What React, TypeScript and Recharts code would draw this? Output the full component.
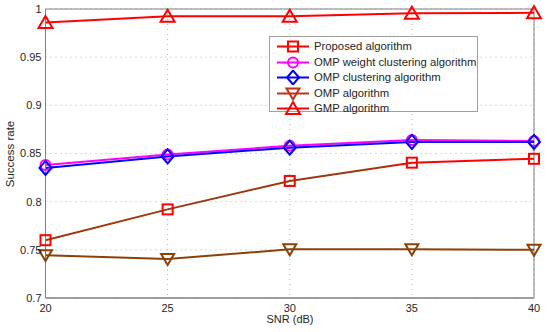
import React from 'react';
import { LineChart, Line, XAxis, YAxis, CartesianGrid, ReferenceArea } from 'recharts';

const snr = [20, 25, 30, 35, 40];
const proposed = [0.76, 0.792, 0.8215, 0.8405, 0.8445];
const ompWeight = [0.838, 0.849, 0.858, 0.864, 0.863];
const ompCluster = [0.835, 0.847, 0.856, 0.862, 0.862];
const omp = [0.7445, 0.7405, 0.7505, 0.7505, 0.75];
const gmp = [0.986, 0.9925, 0.9925, 0.9955, 0.996];
const yTicks = [0.7, 0.75, 0.8, 0.85, 0.9, 0.95, 1];

const seriesNames = [
  'Proposed algorithm',
  'OMP weight clustering algorithm',
  'OMP clustering algorithm',
  'OMP algorithm',
  'GMP algorithm',
];

const data = snr.map((s, i) => ({
  snr: s,
  proposed: proposed[i],
  ompWeight: ompWeight[i],
  ompCluster: ompCluster[i],
  omp: omp[i],
  gmp: gmp[i],
}));

const FONT = '"Liberation Sans", Arial, sans-serif';
const TXT = '#262626';

type Shape = 'square' | 'circle' | 'diamond' | 'tdown' | 'tup';

function Marker({ cx, cy, shape, color }: { cx: number; cy: number; shape: Shape; color: string }) {
  const sw = 2;
  if (shape === 'square') return <rect x={cx - 5} y={cy - 5} width={10} height={10} fill="none" stroke={color} strokeWidth={sw} />;
  if (shape === 'circle') return <circle cx={cx} cy={cy} r={5} fill="none" stroke={color} strokeWidth={sw} />;
  if (shape === 'diamond')
    return <polygon points={`${cx},${cy - 7} ${cx + 6},${cy} ${cx},${cy + 7} ${cx - 6},${cy}`} fill="none" stroke={color} strokeWidth={sw} />;
  if (shape === 'tdown')
    return <polygon points={`${cx - 6.5},${cy - 5} ${cx + 6.5},${cy - 5} ${cx},${cy + 6}`} fill="none" stroke={color} strokeWidth={sw} />;
  return <polygon points={`${cx - 7},${cy + 5.5} ${cx + 7},${cy + 5.5} ${cx},${cy - 6.5}`} fill="none" stroke={color} strokeWidth={sw} />;
}

const dotFn = (shape: Shape, color: string) => (props: any) => {
  const { cx, cy, index } = props;
  return <Marker key={`${shape}-${index}`} cx={cx} cy={cy} shape={shape} color={color} />;
};

const series = [
  { key: 'proposed', stroke: 'url(#propGrad)', legendColor: '#ff0000', markColor: '#ff0000', shape: 'square' as Shape },
  { key: 'ompWeight', stroke: '#ff00ff', legendColor: '#ff00ff', markColor: '#ff00ff', shape: 'circle' as Shape },
  { key: 'ompCluster', stroke: '#0000ff', legendColor: '#0000ff', markColor: '#0000ff', shape: 'diamond' as Shape },
  { key: 'omp', stroke: '#8a4208', legendColor: '#c0301a', markColor: '#8a4208', shape: 'tdown' as Shape },
  { key: 'gmp', stroke: '#ff0000', legendColor: '#ff0000', markColor: '#ff0000', shape: 'tup' as Shape },
];

function LegendBox() {
  return (
    <div
      style={{
        position: 'absolute',
        left: 269,
        top: 36,
        width: 209,
        height: 76,
        border: '1px solid #a0a0a0',
        background: '#fff',
        fontFamily: FONT,
        fontSize: 11.3,
        color: TXT,
        boxSizing: 'border-box',
      }}
    >
      {series.map((s, i) => (
        <div key={s.key} style={{ position: 'absolute', left: 0, top: 2 + i * 15.5, height: 15, width: 207 }}>
          <svg width={40} height={15} style={{ position: 'absolute', left: 6, top: 0 }}>
            <line x1={1} y1={7.5} x2={33} y2={7.5} stroke={s.legendColor} strokeWidth={2} />
            <Marker cx={17} cy={7.5} shape={s.shape} color={s.legendColor} />
          </svg>
          <span style={{ position: 'absolute', left: 44, top: 0, lineHeight: '15px', whiteSpace: 'nowrap' }}>{seriesNames[i]}</span>
        </div>
      ))}
    </div>
  );
}

export default function App() {
  return (
    <div style={{ position: 'absolute', left: 0, top: 0, width: 550, height: 332, background: '#fff' }}>
      <LineChart width={550} height={332} data={data} margin={{ top: 9, right: 16, bottom: 0, left: 0 }}>
        <defs>
          <linearGradient id="propGrad" x1="0" y1="0" x2="1" y2="0">
            <stop offset="0" stopColor="#9a3a10" />
            <stop offset="0.68" stopColor="#9a3a10" />
            <stop offset="0.74" stopColor="#ff0000" />
            <stop offset="1" stopColor="#ff0000" />
          </linearGradient>
        </defs>
        <CartesianGrid stroke="#b0b0b0" strokeDasharray="1 4" />
        <XAxis
          dataKey="snr"
          type="number"
          domain={[20, 40]}
          ticks={snr}
          height={34}
          tickLine={false}
          tickSize={4}
          tickMargin={2}
          axisLine={{ stroke: '#808080' }}
          tick={{ fontSize: 11, fill: TXT, fontFamily: FONT }}
          label={{
            content: () => (
              <text x={290} y={323} textAnchor="middle" fontSize={11} fill={TXT} fontFamily={FONT}>
                SNR (dB)
              </text>
            ),
          }}
        />
        <YAxis
          type="number"
          domain={[0.7, 1]}
          ticks={yTicks}
          width={45.5}
          tickLine={false}
          tickSize={3}
          tickMargin={1}
          axisLine={{ stroke: '#808080' }}
          tick={{ fontSize: 11, fill: TXT, fontFamily: FONT }}
          label={{
            content: () => (
              <text x={14} y={154} transform="rotate(-90 14 154)" textAnchor="middle" fontSize={11.5} fill={TXT} fontFamily={FONT}>
                Success rate
              </text>
            ),
          }}
        />
        <ReferenceArea x1={20} x2={40} y1={0.7} y2={1} fill="none" stroke="#808080" strokeWidth={1} />
        {series.map((s) => (
          <Line
            key={s.key}
            dataKey={s.key}
            stroke={s.stroke}
            strokeWidth={2}
            isAnimationActive={false}
            dot={dotFn(s.shape, s.markColor)}
            activeDot={false}
          />
        ))}
      </LineChart>
      <LegendBox />
    </div>
  );
}
